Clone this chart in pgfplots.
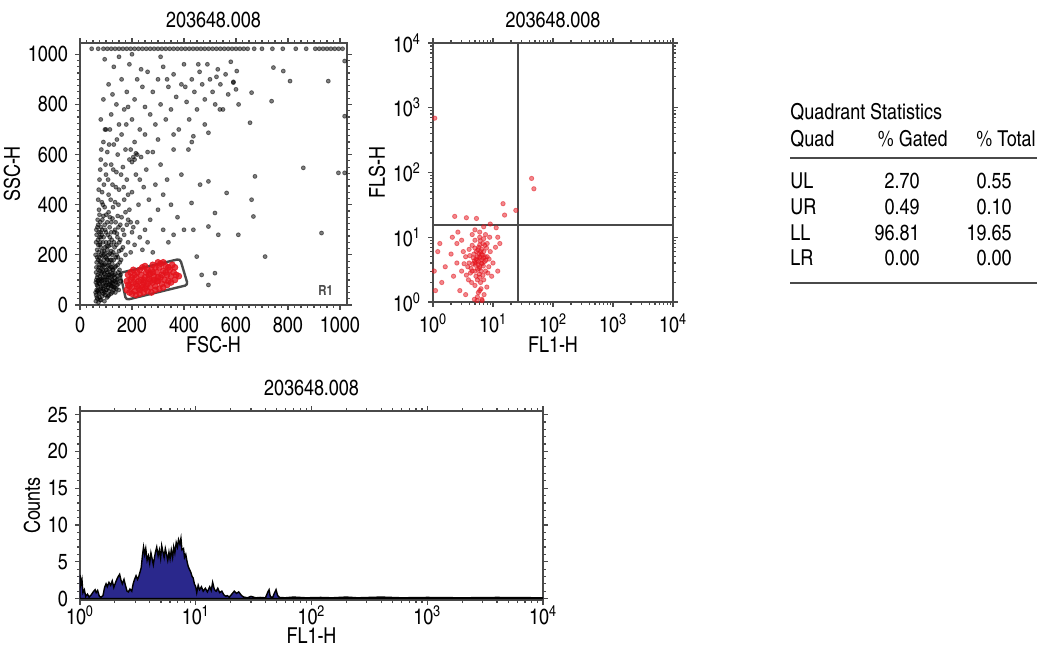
\documentclass[border=0pt]{standalone}
\usepackage{fontspec}
\setmainfont{texgyreheroscn}[Extension=.otf, UprightFont=*-regular, BoldFont=*-bold, ItalicFont=*-italic, BoldItalicFont=*-bolditalic]
\usepackage{pgfplots}
\pgfplotsset{compat=1.18}
\definecolor{gateRed}{HTML}{E3121B}
\definecolor{histBlue}{RGB}{42,40,140}
\definecolor{frameGray}{HTML}{4A4A4A}

\pgfplotsset{
  facs/.style={
    scale only axis,
    anchor=south west,
    font=\fontsize{11}{13}\selectfont,
    tick label style={font=\fontsize{11}{13}\selectfont},
    /pgf/number format/assume math mode=true,
    /pgf/number format/1000 sep={},
    axis line style={line width=1.2pt, frameGray},
    tick align=outside,
    major tick length=2.5pt,
    minor tick length=1.5pt,
    every tick/.style={frameGray, line width=0.6pt},
    title style={font=\fontsize{11}{13}\selectfont, yshift=-2pt},
    clip=true,
  },
  dots/.style={only marks, mark=*, mark size=#1},
}

\begin{document}
\begin{tikzpicture}
\path[use as bounding box] (0,0) rectangle (519.5bp,323.5bp);

% ---- FSC / SSC dot plot ----
\begin{axis}[facs,
  at={(40bp,171bp)}, width=133.5bp, height=131bp,
  xmin=0, xmax=1027, ymin=0, ymax=1045,
  xtick={0,200,...,1000}, ytick={0,200,...,1000},
  minor x tick num=7, minor y tick num=7,
  xlabel={FSC-H}, ylabel={SSC-H},
  xlabel style={yshift=5pt}, ylabel style={yshift=-3pt},
  title={203648.008},
]
% events outside the gate
\addplot[dots=1pt, color=black, opacity=0.5] coordinates {
  (62,40)(65,80)(68,120)(70,60)(72,150)(75,30)(78,100)(80,200)(82,70)(85,130)
  (88,250)(90,45)(92,180)(95,90)(97,300)(100,60)(102,140)(105,220)(108,35)(110,110)
  (112,170)(115,270)(118,80)(120,330)(122,150)(125,50)(128,210)(130,120)(132,290)(135,70)
  (138,190)(140,240)(142,100)(145,160)(148,310)(150,215)(155,260)(158,180)(160,350)(165,230)
  (170,280)(175,200)(180,320)(185,250)(190,380)(195,210)(200,290)(210,240)(220,330)(230,270)
  (240,220)(250,300)(260,250)(270,340)(280,210)
  (64,170)(66,220)(69,260)(71,10)(74,190)(76,240)(79,290)(81,20)(84,160)(86,340)
  (89,110)(91,270)(94,15)(96,230)(99,190)(101,360)(104,90)(107,280)(109,200)(111,40)
  (114,310)(116,130)(119,240)(121,180)(124,100)(127,390)(129,60)(131,250)(134,150)(137,330)
  (139,90)(141,200)(144,270)(147,130)(149,60)(63,100)(67,55)(73,85)(77,135)(83,95)
  (87,65)(93,125)(98,75)(103,110)(106,155)(113,85)(117,65)(123,125)(126,75)(133,110)
  (136,50)(143,80)(146,105)(152,140)(157,95)(63,300)(68,340)(73,380)(78,330)(84,410)
  (61,15)(62,130)(64,60)(66,190)(67,25)(69,95)(71,140)(72,210)(74,45)(76,115)
  (77,175)(79,65)(80,230)(82,105)(83,145)(85,35)(86,195)(88,85)(89,155)(91,55)
  (92,215)(94,125)(95,165)(97,40)(98,100)(100,250)(101,80)(103,185)(104,30)(106,130)
  (107,70)(109,160)(110,235)(112,55)(113,120)(115,205)(116,95)(118,150)(119,45)(121,75)
  (122,260)(124,165)(125,115)(127,85)(128,140)(130,180)(131,70)(133,230)(134,95)(136,125)
  (138,155)(140,65)(142,285)(144,115)(146,190)(148,85)(151,250)(153,170)(156,120)(159,220)
  (60,50)(61,90)(63,150)(65,30)(66,110)(68,75)(70,180)(71,100)(73,50)(75,160)
  (76,85)(78,20)(80,125)(81,170)(83,55)(85,215)(86,100)(88,140)(90,75)(91,200)
  (93,160)(95,50)(96,110)(98,205)(100,140)(102,60)(103,235)(105,100)(106,180)(108,120)
  (110,80)(112,250)(114,145)(116,180)(118,110)(120,215)(122,90)(124,200)(126,140)(129,95)
  (60,200)(62,250)(64,280)(67,310)(70,240)(72,290)(75,270)(78,250)(81,310)(84,280)
  (70,320)(75,360)(80,270)(85,300)(90,355)(95,320)(100,290)(105,330)(110,370)(115,350)
  (120,290)(125,345)(135,300)(145,355)(155,320)(165,300)(175,370)(185,340)(195,330)(205,310)
  (70,420)(75,500)(80,580)(85,450)(90,650)(95,390)(100,520)(105,610)(110,440)(115,700)
  (120,560)(125,480)(130,640)(135,410)(140,530)(145,600)(150,460)(160,680)(165,550)(170,420)
  (175,620)(180,500)(190,580)(200,450)(210,650)(215,520)(225,400)(235,590)(245,470)(255,540)
  (265,420)(280,610)(290,480)(300,380)(310,560)(320,440)(335,500)(350,400)(360,620)(375,350)
  (390,520)(400,300)(210,580)(220,600)(205,590)(195,620)(200,570)(215,605)
  (72,460)(78,540)(88,400)(92,480)(98,560)(108,500)(118,420)(128,540)(138,470)(148,400)
  (158,520)(168,470)(185,440)(230,500)(260,610)(82,620)(96,700)(112,640)(142,660)(178,720)
  (80,740)(90,820)(100,700)(110,880)(120,760)(130,950)(140,800)(150,720)(160,900)(170,780)
  (180,850)(190,960)(200,740)(210,820)(220,900)(230,700)(240,870)(250,790)(260,930)(270,760)
  (280,850)(290,720)(300,900)(310,800)(320,950)(330,740)(340,870)(350,780)(360,920)(370,830)
  (380,700)(390,880)(400,960)(410,810)(420,740)(430,900)(440,850)(450,780)(460,930)(470,880)
  (480,820)(490,960)(500,900)(510,850)(520,800)(530,940)(540,880)(550,780)(560,920)(570,840)
  (580,970)(590,890)(600,860)(610,800)(480,720)(430,650)(360,680)(300,660)(250,680)(95,980)
  (150,990)(200,1000)(310,990)(125,840)(185,790)(235,940)(335,900)(405,870)(455,960)(525,910)
  (955,893)(744,947)(782,933)(808,893)(737,813)(660,847)(654,727)(859,547)(994,527)(673,513)
  (660,420)(564,447)(667,353)(609,280)(532,280)(494,313)(519,367)(494,493)(462,480)(429,407)
  (436,300)(449,193)(468,120)(494,80)(519,127)(929,287)(712,193)(590,887)(603,933)(494,687)
  (538,780)(436,673)(417,620)(1018,973)(1018,753)(1018,527)(340,250)(360,280)(320,300)
  (45,1022)(70,1022)(90,1022)(105,1022)(120,1022)(135,1022)(150,1022)(165,1022)(180,1022)(195,1022)
  (210,1022)(225,1022)(240,1022)(255,1022)(270,1022)(285,1022)(300,1022)(315,1022)(330,1022)(345,1022)
  (360,1022)(375,1022)(390,1022)(405,1022)(420,1022)(435,1022)(450,1022)(465,1022)(480,1022)(495,1022)
  (510,1022)(525,1022)(540,1022)(555,1022)(570,1022)(585,1022)(600,1022)(615,1022)(630,1022)(645,1022)
  (670,1022)(700,1022)(740,1022)(780,1022)(830,1022)(870,1022)(905,1022)(920,1022)(935,1022)(950,1022)
  (965,1022)(980,1022)(995,1022)(1010,1022)
};
% gated events (R1)
\addplot[dots=1.5pt, color=gateRed, opacity=0.8] coordinates {
  (180,60)(185,80)(190,50)(195,100)(200,70)(205,90)(210,55)(215,110)(220,75)(225,95)
  (230,60)(235,120)(240,80)(245,100)(250,65)(255,130)(260,85)(265,105)(270,70)(275,140)
  (280,90)(285,115)(290,75)(295,130)(300,95)(305,150)(310,110)(315,85)(320,135)(325,100)
  (330,155)(335,120)(340,95)(345,140)(350,115)(355,160)(360,130)(365,150)(370,120)
  (200,110)(210,120)(220,130)(230,140)(240,150)(250,155)(260,140)(270,125)(280,160)(290,150)
  (300,170)(310,165)(320,170)(190,75)(200,45)(215,40)(230,45)(245,50)(260,55)(275,50)
  (290,60)(305,65)(320,70)(335,80)(350,90)(365,100)(380,115)(180,95)(185,120)(195,130)
  (205,140)(225,65)(240,70)(255,75)(270,95)(285,100)(300,110)(315,120)(250,110)(265,120)
  (235,100)(215,85)(245,90)(280,130)(295,95)(330,130)(340,150)
};
% gate R1
\addplot[frameGray, line width=1.2pt, rounded corners=1.5pt] coordinates {
  (154,128)(385,184)(415,80)(177,20)(154,128)
};
\node[font=\bfseries\fontsize{7}{8}\selectfont, text=frameGray] at (axis cs:945,58) {R1};
\end{axis}

% ---- FL1 / FLS quadrant plot ----
\begin{axis}[facs,
  at={(216.5bp,172.5bp)}, width=120bp, height=129.5bp,
  xmode=log, ymode=log,
  xmin=1, xmax=10000, ymin=1, ymax=10000,
  xtick={1,10,100,1000,10000}, ytick={1,10,100,1000,10000},
  xticklabels={10\textsuperscript{0},10\textsuperscript{1},10\textsuperscript{2},10\textsuperscript{3},10\textsuperscript{4}},
  yticklabels={10\textsuperscript{0},10\textsuperscript{1},10\textsuperscript{2},10\textsuperscript{3},10\textsuperscript{4}},
  xlabel={FL1-H}, ylabel={FLS-H},
  xlabel style={yshift=5pt}, ylabel style={yshift=-3pt},
  title={203648.008},
]
\addplot[dots=1.1pt, color=gateRed, opacity=0.5] coordinates {
  (4.5,3)(5,4)(5.5,5)(6,3.5)(6.5,4.5)(7,6)(5.2,2.5)(5.8,7)(6.2,2)(4.8,5.5)
  (7.5,3)(6.8,8)(5.5,3.2)(6,5)(4,4)(4.2,2.8)(3.5,5)(3.8,3.5)(7.2,4.2)(8,5)
  (8.5,3.5)(9,6)(5,1.8)(6,1.5)(7,2.2)(5.5,1.2)(6.5,1.1)(4.5,7.5)(5,9)(6,10)
  (7,9.5)(4,6.5)(3,3)(3.2,6)(2.5,4)(2.2,2.5)(2,5.5)(1.6,3.5)(1.4,2)(1.2,6)
  (2.8,1.5)(3.5,1.3)(9.5,2.5)(10,4)(11,7)(12,3)(8,8)(8.8,10)(7.5,11)(6,12)
  (5,13)(3,9)(2.5,8)(4.5,11)(6.5,6.5)(5.3,6)(5.7,4.2)(6.3,3)(6.7,5.3)(5.9,2.7)
  (5.1,3.7)(4.7,4.8)(7.8,6.8)(7.3,7.5)(6.1,8.8)(4.3,3.3)(3.9,2.2)(8.2,2.8)(7.9,1.7)(5.4,1.05)
  (6.6,1.05)(7.1,1.3)(4.9,1.1)(1.1,1.5)(1.3,8)(1.05,3)(2.1,10)(2.6,12)
  (5.6,3.8)(6.4,4.0)(5.2,4.6)(6.9,3.6)(5.8,5.6)(4.6,3.9)(6.2,6.0)(7.4,5.0)(5.5,2.2)(6.8,2.6)
  (4.4,2.0)(5.0,6.8)(6.0,7.6)(4.1,5.2)(7.6,4.4)(6.3,1.6)(5.7,1.4)(3.3,3.9)(3.6,2.6)(8.6,4.6)
  (5.4,4.4)(6.1,4.8)(5.9,3.3)(6.6,3.9)(5.0,3.0)(6.4,5.5)(5.6,6.4)(4.9,4.3)(7.0,4.8)(6.0,2.4)
  (3.6,20)(5.3,19.5)(2.3,21)(14.7,33)(15.6,22)(24,26)(44,81)(48,56)(1.07,690)(11.3,14)
  (9,16)(7,14.5)(12,10)(13,8)
};
\addplot[frameGray, line width=1.2pt] coordinates {(26,1)(26,10000)};
\addplot[frameGray, line width=1.2pt] coordinates {(1,15.5)(10000,15.5)};
\end{axis}

% ---- FL1 histogram ----
\begin{axis}[facs,
  at={(40bp,23.5bp)}, width=231.5bp, height=94.5bp,
  xmode=log, xmin=1, xmax=10000, ymin=-0.2, ymax=25.5,
  xtick={1,10,100,1000,10000}, ytick={0,5,...,25},
  xticklabels={10\textsuperscript{0},10\textsuperscript{1},10\textsuperscript{2},10\textsuperscript{3},10\textsuperscript{4}},
  minor y tick num=4,
  xlabel={FL1-H}, ylabel={Counts},
  xlabel style={yshift=5.5pt}, ylabel style={yshift=-3pt},
  xticklabel style={yshift=3pt},
  title={203648.008},
]
\addplot[fill=histBlue, draw=black, line width=0.7pt] coordinates {
  (1.0,0)(1.0,3.2)(1.02,2)(1.04,2.6)(1.06,0.8)(1.09,1.2)(1.12,0.3)(1.16,0.6)(1.2,0.2)(1.25,0.5)
  (1.3,0.9)(1.35,1.2)(1.38,0.8)(1.42,1.1)(1.47,0.3)(1.52,0.2)(1.58,0.4)(1.63,1.5)(1.68,2.0)(1.72,1.6)
  (1.78,2.2)(1.84,1.8)(1.9,2.4)(1.96,1.5)(2.02,2.1)(2.08,2.6)(2.14,3.0)(2.2,3.3)(2.26,2.5)(2.32,2.0)
  (2.4,2.6)(2.47,1.8)(2.55,1.0)(2.62,0.9)(2.7,1.3)(2.8,1.0)(2.88,2.0)(2.96,2.6)(3.05,3.1)(3.14,2.6)
  (3.22,3.0)(3.3,3.6)(3.38,4.2)(3.46,5.8)(3.54,7.0)(3.62,6.0)(3.7,6.8)(3.8,5.2)(3.9,5.8)(4.0,4.8)
  (4.1,6.2)(4.2,5.4)(4.3,4.6)(4.4,5.6)(4.5,6.4)(4.6,7.0)(4.73,5.8)(4.85,6.6)(4.97,5.5)(5.08,7.2)
  (5.2,6.4)(5.33,5.6)(5.46,6.8)(5.6,6.0)(5.73,5.2)(5.87,6.3)(6.0,5.4)(6.15,6.6)(6.31,5.6)(6.45,7.0)
  (6.6,6.2)(6.78,7.6)(6.95,7.0)(7.1,8.0)(7.29,7.4)(7.45,8.2)(7.6,6.6)(7.84,6.8)(8.0,5.6)(8.2,6.0)
  (8.42,5.0)(8.6,4.4)(8.8,4.0)(9.05,3.6)(9.3,3.0)(9.5,2.8)(9.73,2.0)(10.0,1.6)(10.2,0.8)(10.5,1.8)
  (10.8,1.2)(11.2,1.6)(11.6,1.0)(12.1,1.4)(12.6,0.9)(13.2,1.6)(13.6,1.1)(14.0,2.2)(14.5,1.2)(15.0,1.0)
  (15.5,1.4)(16.1,0.8)(16.8,1.0)(17.5,0.5)(18.2,0.3)(18.7,0.4)(19.5,0.2)(20.5,0.6)(21.5,1.0)(22.5,0.7)
  (23.5,0.9)(24.9,0.4)(26,0.2)(28,0.1)(30,0.3)(33,0.1)(36,0.15)(40,0.1)(42,0.9)(43,1.2)
  (44,0.3)(46,0.1)(48,0.8)(49.4,1.2)(51,0.4)(53,0.15)(59,0.1)(70,0.2)(90,0.1)(120,0.15)
  (150,0.1)(200,0.2)(250,0.1)(400,0.2)(600,0.1)(1000,0.15)(2000,0.1)(4000,0.15)(10000,0.1)(10000,0)
} \closedcycle;
\end{axis}

% ---- quadrant statistics ----
\begin{scope}[every node/.style={font=\fontsize{11}{13}\selectfont, inner sep=0pt}]
\node[anchor=base west] at (395bp,263.5bp) {Quadrant Statistics};
\node[anchor=base west] at (395bp,250bp) {Quad};
\node[anchor=base east] at (474bp,250bp) {\% Gated};
\node[anchor=base east] at (518bp,250bp) {\% Total};
\draw[frameGray, line width=0.9pt] (395bp,244.5bp) -- (518.5bp,244.5bp);
\foreach \q/\g/\t [count=\i] in {UL/2.70/0.55, UR/0.49/0.10, LL/96.81/19.65, LR/0.00/0.00} {
  \node[anchor=base west] at (395bp,{229bp-(\i-1)*12.8bp}) {\q};
  \node[anchor=base east] at (460bp,{229bp-(\i-1)*12.8bp}) {\g};
  \node[anchor=base east] at (506bp,{229bp-(\i-1)*12.8bp}) {\t};
}
\draw[frameGray, line width=0.9pt] (395bp,182bp) -- (518.5bp,182bp);
\end{scope}
\end{tikzpicture}
\end{document}
